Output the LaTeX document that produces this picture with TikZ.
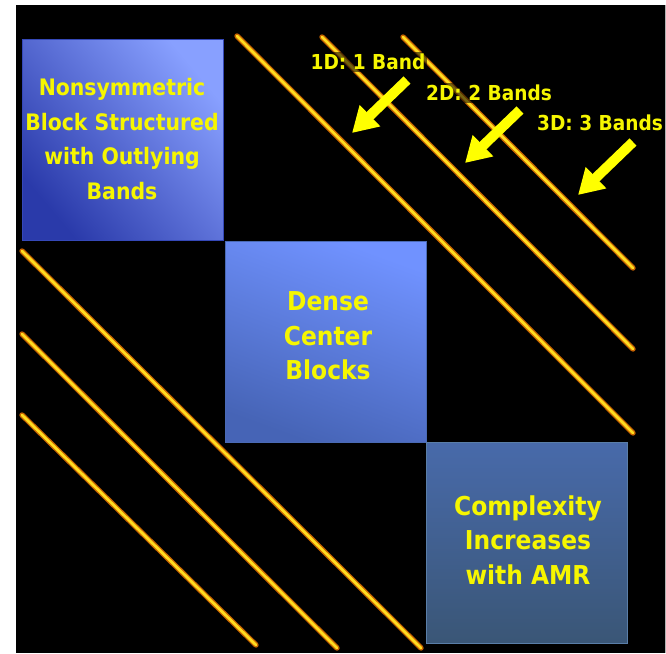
\documentclass[tikz,border=0pt]{standalone}
\usepackage{fontspec}
\setmainfont{DejaVu Sans Condensed}
\usetikzlibrary{arrows.meta,calc}
\definecolor{bandor}{HTML}{C86400}
\definecolor{bandye}{HTML}{FFDC20}
\definecolor{txtye}{HTML}{F6F600}
\definecolor{arrye}{HTML}{FFFF00}
\definecolor{bordA}{HTML}{3548B8}
\definecolor{bordB}{HTML}{4A6AB4}
\definecolor{bordC}{HTML}{5A7EA8}
\definecolor{aTop}{RGB}{136,160,255}
\definecolor{aMid}{RGB}{72,100,236}
\definecolor{aBot}{RGB}{42,58,170}
\definecolor{bTop}{RGB}{112,146,255}
\definecolor{bBot}{RGB}{70,100,182}
\definecolor{cTop}{RGB}{72,106,170}
\definecolor{cBot}{RGB}{58,86,118}
\tikzset{
  band/.style={draw=bandor, double=bandye, double distance=2.8pt, line width=1.3pt, line cap=round},
  blockbox/.style={draw=#1, line width=0.8pt, minimum width=201pt, minimum height=201pt, inner sep=0pt},
  boxtxt/.style={text=txtye, align=center, font=\fontsize{22.7}{34.5}\selectfont\bfseries},
  bigtxt/.style={text=txtye, align=center, font=\fontsize{26}{34.5}\selectfont\bfseries},
  lbl/.style={fill=black, fill opacity=0.55, text opacity=1, text=txtye, inner sep=2pt,
              font=\fontsize{20.6}{24}\selectfont\bfseries},
  yarrow/.style={draw=arrye, line width=10pt, -{Triangle[width=28pt,length=25pt]}}
}
\begin{document}
\begin{tikzpicture}[x=1pt,y=-1pt]
  \useasboundingbox (0,0) rectangle (666,653);
  \fill[white] (0,0) rectangle (666,653);
  \fill[black] (16,5) rectangle (665,653);
  \fill[gray!60] (665,5) rectangle (666,653);

  % blocks
  \node[blockbox=bordA, shade, top color=aTop, middle color=aMid, bottom color=aBot, shading angle=-50]
        (b1) at (122.5,139.5) {};
  \node[blockbox=bordB, shade, top color=bTop, bottom color=bBot, shading angle=-20]
        (b2) at (326,342) {};
  \node[blockbox=bordC, shade, top color=cTop, bottom color=cBot]
        (b3) at (527,543) {};

  \node[boxtxt] (t1) at (122,139) {Nonsymmetric\\Block Structured\\with Outlying\\Bands};
  \node[bigtxt] (t2) at (328,336) {Dense\\Center\\Blocks};
  \node[bigtxt] (t3) at (528,540) {Complexity\\Increases\\with AMR};

  % bands
  \coordinate (a1) at (237,36);  \coordinate (a2) at (633,433);
  \coordinate (c1) at (322,37);  \coordinate (c2) at (633,349);
  \coordinate (e1) at (403,37);  \coordinate (e2) at (633,268);
  \coordinate (d1) at (22,251);  \coordinate (d2) at (421,648);
  \coordinate (f1) at (22,334);  \coordinate (f2) at (337,648);
  \coordinate (g1) at (22,415);  \coordinate (g2) at (256,645);
  \draw[band] (a1) -- (a2);
  \draw[band] (c1) -- (c2);
  \draw[band] (e1) -- (e2);
  \draw[band] (d1) -- (d2);
  \draw[band] (f1) -- (f2);
  \draw[band] (g1) -- (g2);

  % labels
  \node[lbl] (l1) at (368,62) {1D: 1 Band};
  \node[lbl] (l2) at (489,93) {2D: 2 Bands};
  \node[lbl] (l3) at (600,123) {3D: 3 Bands};

  % arrows
  \coordinate (p1t) at (407,80);  \coordinate (p1h) at (352,133);
  \coordinate (p2t) at (520,110); \coordinate (p2h) at (465,163);
  \coordinate (p3t) at (633,142); \coordinate (p3h) at (578,195);
  \draw[yarrow] (p1t) -- (p1h);
  \draw[yarrow] (p2t) -- (p2h);
  \draw[yarrow] (p3t) -- (p3h);
\end{tikzpicture}
\end{document}
